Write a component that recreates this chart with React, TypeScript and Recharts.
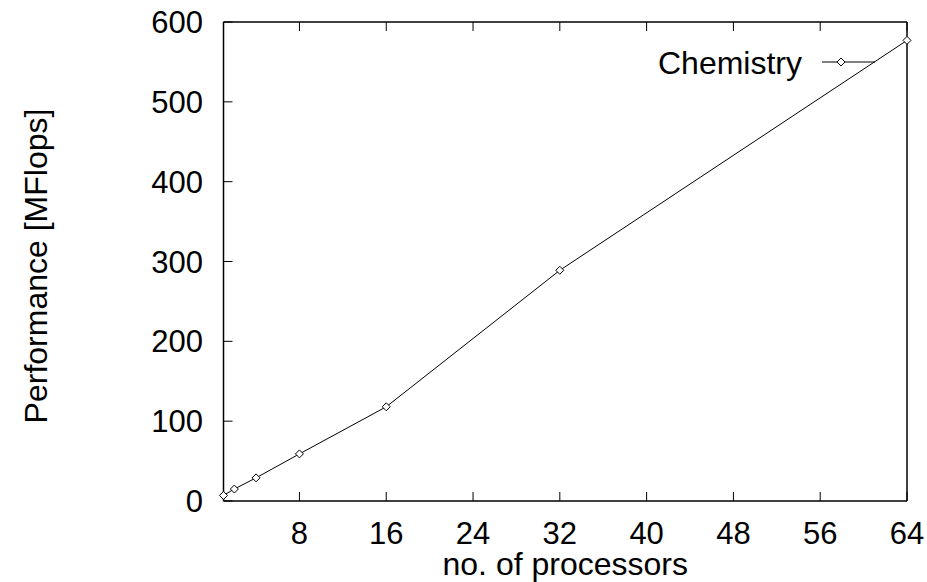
import React from 'react';
import { LineChart, Line, XAxis, YAxis, Legend } from 'recharts';

// processors vs. measured performance
const processors = [1, 2, 4, 8, 16, 32, 64];
const mflops = [7, 15, 29, 59, 118, 289, 577];

const xTicks = [8, 16, 24, 32, 40, 48, 56, 64];
const yTicks = [0, 100, 200, 300, 400, 500, 600];

const seriesName = 'Chemistry';
const xLabel = 'no. of processors';
const yLabel = 'Performance [MFlops]';

const data = processors.map((p, i) => ({ p, value: mflops[i] }));

const FONT = '"Liberation Sans", Arial, Helvetica, sans-serif';
const TICK_FS = 31;
const LABEL_FS = 32;

// plot box (gnuplot-like frame)
const PLOT_TOP = 22;
const PLOT_BOTTOM = 501;
const PLOT_LEFT = 223.5;
const PLOT_RIGHT = 907;
const TICK_LEN = 9;

const Diamond = (props: any) => {
  const { cx, cy } = props;
  if (cx == null || cy == null) return null;
  const r = 4;
  return (
    <polygon
      key={`d-${cx}-${cy}`}
      points={`${cx},${cy - r} ${cx + r},${cy} ${cx},${cy + r} ${cx - r},${cy}`}
      fill="#fff"
      stroke="#000"
      strokeWidth={1}
    />
  );
};

const BottomTick = (props: any) => {
  const { x, payload } = props;
  return (
    <g>
      <line x1={x} y1={PLOT_BOTTOM} x2={x} y2={PLOT_BOTTOM - TICK_LEN} stroke="#000" strokeWidth={1} />
      <text x={x} y={544} textAnchor="middle" fontSize={TICK_FS} fontFamily={FONT} fill="#000">
        {payload.value}
      </text>
    </g>
  );
};

const TopTick = (props: any) => {
  const { x } = props;
  return <line x1={x} y1={PLOT_TOP} x2={x} y2={PLOT_TOP + TICK_LEN} stroke="#000" strokeWidth={1} />;
};

const LeftTick = (props: any) => {
  const { y, payload } = props;
  return (
    <g>
      <line x1={PLOT_LEFT} y1={y} x2={PLOT_LEFT + TICK_LEN} y2={y} stroke="#000" strokeWidth={1} />
      <text x={203} y={y + 11} textAnchor="end" fontSize={TICK_FS} fontFamily={FONT} fill="#000">
        {payload.value}
      </text>
    </g>
  );
};

const RightTick = (props: any) => {
  const { y } = props;
  return <line x1={PLOT_RIGHT} y1={y} x2={PLOT_RIGHT - TICK_LEN} y2={y} stroke="#000" strokeWidth={1} />;
};

const LegendBox = () => (
  <svg width={260} height={40} style={{ overflow: 'visible' }}>
    <text x={162} y={33.5} textAnchor="end" fontSize={LABEL_FS} fontFamily={FONT} fill="#000">
      {seriesName}
    </text>
    <line x1={182} y1={22} x2={235} y2={22} stroke="#000" strokeWidth={1} />
    <polygon points="201,18 205,22 201,26 197,22" fill="#fff" stroke="#000" strokeWidth={1} />
  </svg>
);

export default function App() {
  const frame = { stroke: '#000', strokeWidth: 1.5 };
  return (
    <div style={{ position: 'absolute', left: 0, top: 0, background: '#fff' }}>
      <LineChart
        width={927}
        height={582}
        data={data}
        margin={{ top: PLOT_TOP - 1, right: 927 - PLOT_RIGHT - 1, bottom: 0, left: 0 }}
      >
        <XAxis
          dataKey="p"
          type="number"
          domain={[1, 64]}
          ticks={xTicks}
          height={582 - PLOT_BOTTOM}
          tick={BottomTick}
          tickLine={false}
          axisLine={frame}
          interval={0}
          label={{
            content: (props: any) => {
              const vb = props.viewBox;
              return (
                <text
                  x={vb.x + vb.width / 2}
                  y={575}
                  textAnchor="middle"
                  fontSize={LABEL_FS}
                  fontFamily={FONT}
                  fill="#000"
                >
                  {xLabel}
                </text>
              );
            },
          }}
        />
        <XAxis
          xAxisId="top"
          orientation="top"
          dataKey="p"
          type="number"
          domain={[1, 64]}
          ticks={xTicks}
          height={1}
          tick={TopTick}
          tickLine={false}
          axisLine={frame}
          interval={0}
        />
        <YAxis
          type="number"
          domain={[0, 600]}
          ticks={yTicks}
          width={PLOT_LEFT}
          tick={LeftTick}
          tickLine={false}
          axisLine={frame}
          interval={0}
          label={{
            content: () => {
              const cy = 266;
              return (
                <text
                  x={47}
                  y={cy}
                  transform={`rotate(-90, 47, ${cy})`}
                  textAnchor="middle"
                  fontSize={LABEL_FS}
                  fontFamily={FONT}
                  fill="#000"
                >
                  {yLabel}
                </text>
              );
            },
          }}
        />
        <YAxis
          yAxisId="right"
          orientation="right"
          type="number"
          domain={[0, 600]}
          ticks={yTicks}
          width={1}
          tick={RightTick}
          tickLine={false}
          axisLine={frame}
          interval={0}
        />
        <Legend
          layout="horizontal"
          verticalAlign="middle"
          align="center"
          content={() => <LegendBox />}
          wrapperStyle={{ position: 'absolute', left: 640, top: 40, width: 260, height: 40 }}
        />
        <Line
          dataKey="value"
          name={seriesName}
          stroke="#000"
          strokeWidth={1}
          dot={Diamond}
          activeDot={false}
          isAnimationActive={false}
        />
      </LineChart>
    </div>
  );
}
